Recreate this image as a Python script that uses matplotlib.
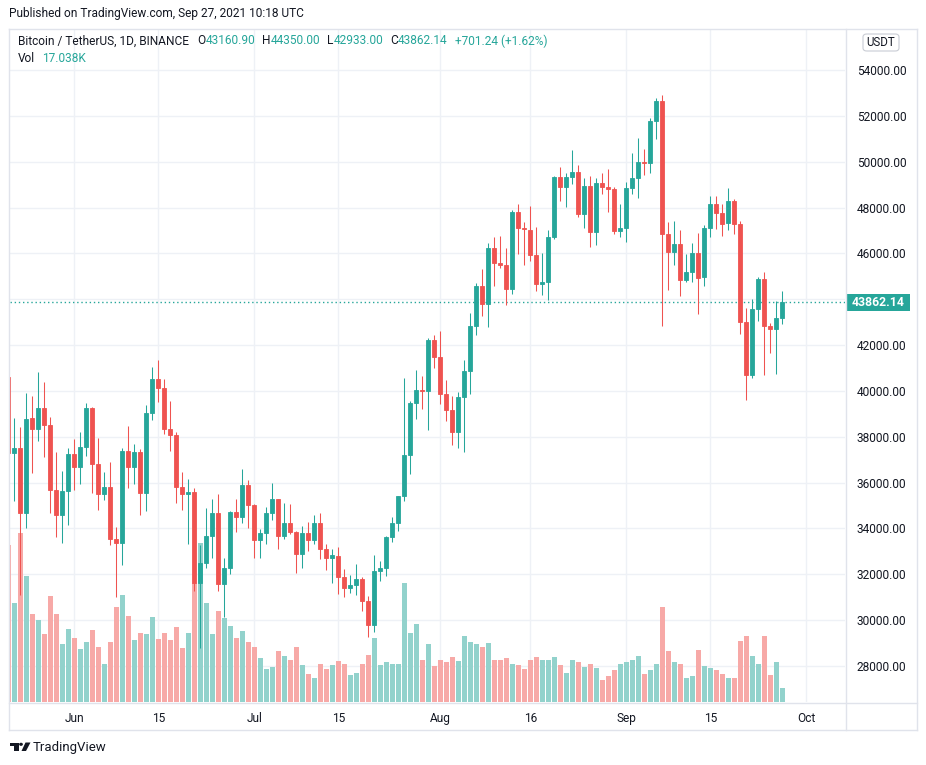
import matplotlib
matplotlib.use('Agg')
import matplotlib.pyplot as plt
import matplotlib.dates as mdates
import matplotlib.transforms as mtrans
from matplotlib.patches import Rectangle, FancyBboxPatch, Polygon, Circle
from matplotlib.lines import Line2D
import numpy as np
import pandas as pd

plt.rcParams['font.family'] = ['Roboto', 'DejaVu Sans']

# ---------------- data (BTC/USDT daily, Binance) ----------------
start_date = '2021-05-21'
opens = [40596, 37280, 37528, 34681, 38810, 38324, 39241, 38529, 35661, 34605, 35642,
         37254, 36694, 37568, 39246, 36829, 35516, 35796, 33556, 33380, 37389,
         36677, 37331, 35546, 39020, 40516, 40143, 38349, 38092, 35820, 35484,
         35600, 31614, 32510, 33676, 34663, 31577, 32283, 34702, 34494, 35911,
         35045, 33502, 33786, 34668, 35288, 33690, 34220, 33855, 32877, 33816,
         33503, 34259, 33087, 32730, 32820, 31874, 31383, 31520, 31779, 30839,
         29790, 32144, 32287, 33634, 34259, 35425, 37208, 39456, 40019, 40016, 42207,
         41461, 39850, 39146, 38207, 39723, 40862, 42836, 44573, 43795, 46248,
         45585, 45497, 44428, 47793, 47096, 47019, 45937, 44686, 44741, 46723,
         49339, 48905, 49321, 49546, 47706, 48961, 46942, 49058, 48903, 48807, 46991,
         47128, 48847, 49292, 49993, 49935, 51757, 52664, 46863, 46048, 46396,
         44843, 45173, 46025, 44948, 47127, 48149, 47753, 47304, 48307, 47261,
         43012, 40693, 43573, 44895, 42839, 42716, 43160.90]
highs = [42172, 38829, 38437, 39920, 39791, 40841, 40411, 38856, 37338, 36488, 37499,
         37894, 38225, 39476, 39289, 37925, 36480, 36900, 34069, 37530, 38491,
         37680, 37463, 39380, 41063, 41330, 40527, 39559, 38202, 36457, 36137,
         35750, 33298, 34881, 35298, 35500, 32708, 34749, 35297, 36600, 36100,
         35057, 33977, 34945, 35967, 35293, 35118, 35059, 33909, 34100, 34267,
         34592, 34678, 33339, 33125, 33185, 32249, 31955, 32435, 31899, 31063,
         32858, 32591, 33650, 34500, 35400, 40550, 39542, 40900, 40640, 42316, 42448,
         42599, 40459, 39780, 39969, 41350, 43392, 44700, 45310, 46454, 46700,
         46743, 46218, 47886, 48144, 47372, 48053, 47160, 46000, 47033, 49382,
         49757, 49500, 50500, 49875, 49277, 49380, 49300, 49500, 49666, 48907, 48150,
         49125, 50400, 51054, 50565, 51900, 52780, 52920, 47359, 47400, 47033,
         45969, 46460, 46876, 47250, 48500, 48486, 48160, 48843, 48372, 47400,
         43639, 44000, 44978, 45200, 42966, 43937, 44350.00]
lows = [33488, 35200, 31111, 34031, 36420, 37800, 37134, 34685, 33632, 33379, 34153,
        35666, 35920, 37170, 35555, 34800, 35258, 33300, 31000, 32396, 35782,
        35936, 34600, 34757, 38730, 39506, 38116, 37365, 35129, 34803, 33336,
        31251, 28805, 32286, 32700, 31275, 30151, 32010, 33862, 34225, 34017,
        32711, 32699, 33316, 34357, 33125, 33532, 33777, 32077, 32261, 33004,
        33310, 32658, 32203, 31600, 31133, 31021, 31164, 31108, 30407, 29278,
        29482, 31708, 31924, 33401, 33881, 35206, 36383, 38772, 39200, 38313, 41000,
        39422, 38690, 37642, 37508, 37332, 39853, 42446, 43262, 42779, 44589,
        45341, 43770, 44217, 45971, 45500, 45660, 44376, 44203, 43955, 46644,
        48280, 48003, 49028, 47600, 47122, 46300, 46360, 48600, 47800, 46862, 46712,
        46512, 48584, 48403, 49420, 49500, 50970, 42843, 44412, 45513, 44132,
        44770, 44742, 43370, 44594, 46700, 47079, 46750, 47028, 46829, 42500,
        39600, 40565, 43069, 40675, 41646, 40750, 42933.00]
closes = [37280, 37528, 34655, 38796, 38324, 39241, 38529, 35663, 34605, 35641, 37253,
          36693, 37568, 39246, 36829, 35513, 35796, 33552, 33380, 37388, 36675,
          37331, 35546, 39020, 40516, 40144, 38349, 38092, 35819, 35483, 35600,
          31608, 32509, 33678, 34663, 31584, 32283, 34700, 34494, 35911, 35045,
          33504, 33787, 34668, 35287, 33690, 34220, 33863, 32875, 33815, 33502,
          34259, 33086, 32729, 32821, 31880, 31383, 31520, 31778, 30839, 29790,
          32144, 32287, 33634, 34258, 35425, 37208, 39456, 40019, 40016, 42206, 41461,
          39845, 39147, 38207, 39723, 40862, 42836, 44572, 43794, 46254, 45580,
          45497, 44428, 47793, 47096, 47047, 45936, 44686, 44741, 46723, 49339,
          48905, 49321, 49546, 47706, 48960, 46942, 49058, 48902, 48807, 46991, 47129,
          48847, 49292, 49993, 49937, 51757, 52663, 46863, 46048, 46395, 44850,
          45173, 46025, 44947, 47127, 48148, 47753, 47303, 48307, 47261, 43012,
          40693, 43574, 44895, 42839, 42716, 43161, 43862.14]
# volume in thousands of BTC
volumes_k = [192, 121, 207, 154, 108, 100, 83, 130, 108, 71, 90,
             78, 65, 73, 88, 67, 46, 74, 117, 131, 105,
             76, 84, 83, 104, 77, 84, 76, 92, 66, 85,
             146, 195, 121, 83, 111, 103, 93, 79, 87, 74,
             68, 54, 41, 43, 62, 56, 52, 67, 45, 34,
             30, 46, 40, 45, 50, 46, 33, 35, 46, 58,
             79, 45, 49, 46, 46, 146, 84, 96, 52, 71, 44,
             52, 49, 55, 50, 81, 73, 71, 67, 72, 52,
             51, 54, 46, 45, 41, 51, 55, 52, 51, 55,
             45, 36, 51, 49, 43, 47, 42, 27, 32, 39, 47,
             49, 52, 57, 34, 39, 47, 117, 62, 49, 47,
             30, 32, 64, 44, 42, 39, 34, 30, 29, 75,
             81, 56, 47, 81, 33, 49, 17.038]

tick_dates = ['2021-06-01', '2021-06-15', '2021-07-01', '2021-07-15', '2021-08-01',
              '2021-08-16', '2021-09-01', '2021-09-15', '2021-10-01']
tick_labels = ['Jun', '15', 'Jul', '15', 'Aug', '16', 'Sep', '15', 'Oct']
price_ticks = list(range(28000, 54001, 2000))

published = 'Published on TradingView.com, Sep 27, 2021 10:18 UTC'
symbol = 'Bitcoin / TetherUS, 1D, BINANCE'
change_txt = '+701.24 (+1.62%)'
vol_txt = '17.038K'
currency = 'USDT'

# ---------------- styling ----------------
GREEN, RED = '#26a69a', '#ef5350'
VGREEN, VRED = '#92d2cc', '#f7a9a7'
TXT = '#131722'
GRID = '#eef1f6'
BORDER = '#e0e3eb'

W, H = 926, 765
fig = plt.figure(figsize=(W / 100, H / 100), dpi=100)
fig.patch.set_facecolor('white')


def rect(l, t, r, b):
    return [l / W, 1 - b / H, (r - l) / W, (b - t) / H]


L, T, R, B = 10, 29, 845.5, 702
ax = fig.add_axes(rect(L, T, R, B))
axv = fig.add_axes(rect(L, T, R, B), sharex=ax)
axc = fig.add_axes(rect(L, T, R, B), sharex=ax, sharey=ax)
for a in (axv, axc):
    a.patch.set_visible(False)
    a.axis('off')

dates = pd.date_range(start_date, periods=len(opens), freq='D')
x = mdates.date2num(dates)
o = np.array(opens, float)
h = np.array(highs, float)
l = np.array(lows, float)
c = np.array(closes, float)
v = np.array(volumes_k, float)
up = c >= o
cols = np.where(up, GREEN, RED)

# scales
px_per_day = 6.0
ax.set_xlim(x[-1] - (782.3 - L) / px_per_day, x[-1] + (R - 782.3) / px_per_day)
px_per_price = 0.022923
ax.set_ylim(54000 - (B - 70) / px_per_price, 54000 + (70 - T) / px_per_price)
axv.set_ylim(0, (B - T) * 1.226)

# volume
axv.bar(x, v, width=0.8, color=np.where(up, VGREEN, VRED), linewidth=0)

# candles
axc.vlines(x, l, h, colors=cols, lw=0.75)
axc.bar(x, c - o, bottom=o, width=0.7, color=cols, edgecolor=cols, linewidth=0.6)

# axes / grid
for s in ax.spines.values():
    s.set_visible(False)
ax.set_xticks(mdates.date2num(pd.to_datetime(tick_dates)))
ax.set_xticklabels(tick_labels)
ax.set_yticks(price_ticks)
last = c[-1]
ax.set_yticklabels(['' if abs(p - last) < 700 else f'{p:.2f}' for p in price_ticks])
ax.yaxis.tick_right()
ax.tick_params(axis='y', length=0, pad=8, labelsize=8.6, labelcolor=TXT)
ax.tick_params(axis='x', length=0, pad=7.5, labelsize=8.6, labelcolor=TXT)
ax.grid(True, color=GRID, lw=1)
ax.set_axisbelow(True)

# last price dotted line & label
ax.axhline(last, color=GREEN, lw=1, linestyle=(0, (1, 2)), zorder=3)
bt = mtrans.blended_transform_factory(fig.transFigure, ax.transData)
hh = 17 / px_per_price
ax.add_patch(Rectangle((846 / W, last - hh / 2), 63.5 / W, hh, transform=bt,
                       facecolor=GREEN, edgecolor='none', clip_on=False, zorder=5))
ax.text(877.7 / W, last, f'{last:.2f}', transform=bt, color='white', fontsize=8.8,
        fontweight='bold', ha='center', va='center', clip_on=False, zorder=6)

# frame lines
def fline(x0, y0, x1, y1, color=BORDER, lw=1):
    fig.add_artist(Line2D([x0 / W, x1 / W], [1 - y0 / H, 1 - y1 / H],
                          transform=fig.transFigure, color=color, lw=lw))

fline(8.5, 28.5, 916.5, 28.5)
fline(8.5, 729.5, 916.5, 729.5)
fline(8.5, 28.5, 8.5, 729.5)
fline(916.5, 28.5, 916.5, 729.5)
fline(845.5, 28.5, 845.5, 729.5)
fline(8.5, 702.5, 916.5, 702.5)

# currency box
fig.add_artist(FancyBboxPatch((863 / W, 1 - 51 / H), 36 / W, 17 / H,
                              boxstyle='round,pad=0,rounding_size=0.004',
                              transform=fig.transFigure, facecolor='white',
                              edgecolor='#c9ccd4', lw=0.8))
fig.text(881 / W, 1 - 42.5 / H, currency, color=TXT, fontsize=8.3, ha='center', va='center')

# header texts
fig.text(9 / W, 1 - 14 / H, published, color=TXT, fontsize=8.6, ha='left', va='center')


def chain(parts, x0, y0, size):
    prev = axc.annotate(parts[0][0], xy=(x0 / W, 1 - y0 / H), xycoords='figure fraction',
                        color=parts[0][1], fontsize=size, ha='left', va='center',
                        annotation_clip=False)
    for s, col, gap in parts[1:]:
        prev = axc.annotate(s, xy=(1, 0.5), xycoords=prev, xytext=(gap, 0),
                            textcoords='offset points', color=col, fontsize=size,
                            ha='left', va='center', annotation_clip=False)


chain([(symbol, TXT, 0), ('O', TXT, 6), (f'{opens[-1]:.2f}', GREEN, 0),
       ('H', TXT, 5), (f'{highs[-1]:.2f}', GREEN, 0),
       ('L', TXT, 5), (f'{lows[-1]:.2f}', GREEN, 0),
       ('C', TXT, 5), (f'{closes[-1]:.2f}', GREEN, 0),
       (change_txt, GREEN, 5)], 18, 41, 8.6)
chain([('Vol', TXT, 0), (vol_txt, GREEN, 5)], 18, 59, 8.6)

# TradingView logo
def px(xx, yy):
    return (xx / W, 1 - yy / H)

fig.add_artist(Polygon([px(10, 742.5), px(18.5, 742.5), px(18.5, 751), px(14.5, 751),
                        px(14.5, 745.5), px(10, 745.5)], closed=True,
                       transform=fig.transFigure, facecolor=TXT, edgecolor='none'))
fig.add_artist(Circle(px(21, 744.3), 1.9 / W, transform=fig.transFigure,
                      facecolor=TXT, edgecolor='none'))
fig.add_artist(Polygon([px(25.5, 742.5), px(30.5, 742.5), px(26, 751), px(21.5, 751)],
                       closed=True, transform=fig.transFigure, facecolor=TXT,
                       edgecolor='none'))
fig.text(33 / W, 1 - 747 / H, 'TradingView', color=TXT, fontsize=9.5, ha='left',
         va='center')

fig.savefig('out.png', dpi=100, facecolor='white')
